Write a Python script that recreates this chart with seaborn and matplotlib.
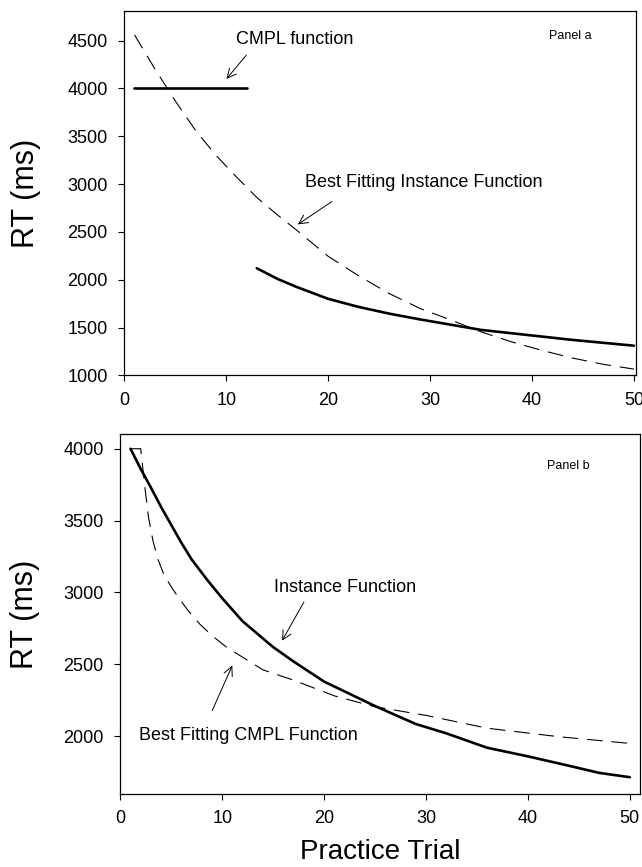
import matplotlib
matplotlib.use("Agg")
import matplotlib.pyplot as plt
import seaborn as sns

sns.set_style('ticks')
plt.rcParams['font.family'] = ['Liberation Sans', 'DejaVu Sans']
plt.rcParams.update({'text.color': 'black', 'axes.labelcolor': 'black',
                     'xtick.color': 'black', 'ytick.color': 'black'})

# Panel a data
a_cmpl_x = [1, 12]
a_cmpl_rt = [4000, 4000]
a_inst_x = [1, 3, 5, 7, 9, 11, 13, 15, 17, 20, 23, 26, 29, 32, 35, 38, 41, 44, 47, 50]
a_inst_rt = [4560, 4205, 3870, 3560, 3300, 3075, 2860, 2680, 2510, 2245, 2040, 1855,
             1700, 1580, 1455, 1350, 1260, 1180, 1115, 1065]
a_data_x = [13, 15, 17, 20, 23, 26, 29, 32, 35, 38, 41, 44, 47, 50]
a_data_rt = [2120, 2010, 1920, 1800, 1715, 1645, 1585, 1530, 1475, 1440, 1405, 1370, 1340, 1310]

# Panel b data
b_inst_x = [1, 2, 3, 4, 5, 6, 7, 8.5, 10, 12, 15, 17, 20, 25, 29, 32, 36, 40, 44, 47, 50]
b_inst_rt = [4000, 3860, 3730, 3595, 3470, 3345, 3230, 3090, 2960, 2800, 2620, 2520,
             2380, 2210, 2085, 2020, 1920, 1860, 1795, 1745, 1715]
b_cmpl_x = [1, 2, 2.4, 2.75, 3.2, 3.7, 4.3, 5, 5.8, 6.7, 7.8, 9, 10.5, 12, 14, 17, 21,
            25, 30, 36, 43, 50]
b_cmpl_rt = [4000, 4000, 3740, 3530, 3360, 3230, 3120, 3040, 2955, 2870, 2780, 2700,
             2615, 2550, 2462, 2390, 2281, 2205, 2145, 2056, 1997, 1950]

x_ticks = [0, 10, 20, 30, 40, 50]
a_y_ticks = [1000, 1500, 2000, 2500, 3000, 3500, 4000, 4500]
b_y_ticks = [2000, 2500, 3000, 3500, 4000]

solid = dict(color='black', linewidth=1.9, estimator=None)
dashed = dict(color='black', linewidth=0.8, estimator=None, linestyle=(0, (14, 8)))
arrow = dict(arrowstyle='->', color='black', lw=0.7, mutation_scale=16)

fig = plt.figure(figsize=(6.42, 8.67), dpi=100)
ax_a = fig.add_axes([0.1936, 0.5671, 0.797, 0.4202])
ax_b = fig.add_axes([0.1874, 0.0845, 0.8095, 0.4145])

# Panel a
sns.lineplot(x=a_cmpl_x, y=a_cmpl_rt, ax=ax_a, **solid)
sns.lineplot(x=a_data_x, y=a_data_rt, ax=ax_a, **solid)
sns.lineplot(x=a_inst_x, y=a_inst_rt, ax=ax_a, **dashed)
ax_a.set_xlim(0, 50.2)
ax_a.set_ylim(1000, 4810)
ax_a.set_yticks(a_y_ticks)
ax_a.text(11.0, 4507, "CMPL function", fontsize=13, va='center')
ax_a.annotate('', xy=(9.85, 4078), xytext=(12.15, 4371), arrowprops=arrow)
ax_a.text(17.75, 3015, "Best Fitting Instance Function", fontsize=13, va='center')
ax_a.annotate('', xy=(16.8, 2562), xytext=(20.6, 2834), arrowprops=arrow)
ax_a.text(41.7, 4548, "Panel a", fontsize=9, va='center')

# Panel b
sns.lineplot(x=b_inst_x, y=b_inst_rt, ax=ax_b, **solid)
sns.lineplot(x=b_cmpl_x, y=b_cmpl_rt, ax=ax_b, **dashed)
ax_b.set_xlim(0, 51)
ax_b.set_ylim(1600, 4100)
ax_b.set_yticks(b_y_ticks)
ax_b.text(15.1, 3036, "Instance Function", fontsize=13, va='center')
ax_b.annotate('', xy=(15.74, 2648), xytext=(18.15, 2950), arrowprops=arrow)
ax_b.text(1.79, 2004, "Best Fitting CMPL Function", fontsize=13, va='center')
ax_b.annotate('', xy=(11.1, 2509), xytext=(8.9, 2160), arrowprops=arrow)
ax_b.text(41.9, 3879, "Panel b", fontsize=9, va='center')
ax_b.set_xlabel("Practice Trial", fontsize=20)
ax_b.xaxis.set_label_coords(0.5, -0.125)

for ax in (ax_a, ax_b):
    ax.set_xticks(x_ticks)
    ax.tick_params(labelsize=13, length=4, width=0.8, pad=8)
    ax.set_ylabel("RT (ms)", fontsize=22)
    for s in ax.spines.values():
        s.set_color('black')
        s.set_linewidth(0.9)
ax_a.set_xlabel("")
ax_a.yaxis.set_label_coords(-0.163, 0.5)
ax_b.yaxis.set_label_coords(-0.155, 0.5)

plt.savefig("out.png", dpi=100)
